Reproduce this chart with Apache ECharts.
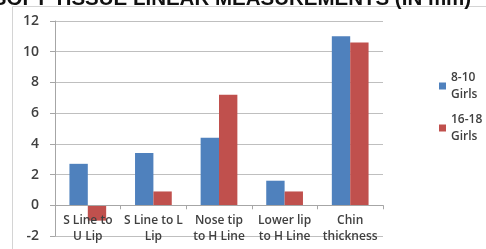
<!DOCTYPE html>
<html>
<head>
<meta charset="utf-8">
<script src="https://cdn.jsdelivr.net/npm/echarts@6/dist/echarts.min.js"></script>
<style>
  html, body { margin: 0; padding: 0; background: #fff; }
  #chart { width: 486px; height: 249px; }
</style>
</head>
<body>
<div id="chart"></div>
<script>
// 数据
const categories = ['S Line to\nU Lip', 'S Line to L\nLip', 'Nose tip\nto H Line', 'Lower lip\nto H Line', 'Chin\nthickness']
const girls810 = [2.7, 3.4, 4.4, 1.6, 11.0]
const girls1618 = [-1.0, 0.9, 7.2, 0.9, 10.6]
const seriesNames = ['8-10 Girls', '16-18 Girls']

const chart = echarts.init(document.getElementById('chart'))

const labelFont = "'Open Sans', 'Liberation Sans', sans-serif"

const option = {
  animation: false,
  title: {
    text: 'SOFT TISSUE LINEAR MEASUREMENTS (IN mm)',
    left: 227,
    textAlign: 'center',
    top: -16,
    textStyle: {
      fontFamily: "'Liberation Sans', sans-serif",
      fontWeight: 'bold',
      fontSize: 20.5,
      color: '#111'
    }
  },
  graphic: [{
    type: 'rect',
    shape: { x: 12.5, y: 6.5, width: 490, height: 260 },
    style: { fill: 'none', stroke: '#d4d4d4', lineWidth: 1 },
    z: -1
  }],
  legend: {
    orient: 'vertical',
    left: 434,
    top: 64,
    itemWidth: 7,
    itemHeight: 7,
    itemGap: 8,
    icon: 'rect',
    data: seriesNames,
    formatter: (name) => name.replace(' ', '\n'),
    textStyle: {
      fontFamily: labelFont,
      fontSize: 12,
      fontWeight: 600,
      color: '#404040',
      lineHeight: 17
    }
  },
  grid: {
    left: 55,
    right: 103,
    top: 21,
    bottom: 13,
    outerBoundsMode: 'none'
  },
  xAxis: {
    type: 'category',
    data: categories,
    z: 5,
    axisLine: { onZero: true, lineStyle: { color: '#a6a6a6' } },
    axisTick: { show: true, length: 4, lineStyle: { color: '#a6a6a6' } },
    axisLabel: {
      // 标签贴在零线下方
      margin: -23,
      interval: 0,
      fontFamily: labelFont,
      fontSize: 12,
      fontWeight: 600,
      color: '#404040',
      lineHeight: 16
    }
  },
  yAxis: {
    type: 'value',
    min: -2,
    max: 12,
    interval: 2,
    axisLine: { show: true, lineStyle: { color: '#a6a6a6' } },
    axisTick: { show: true, length: 5, lineStyle: { color: '#a6a6a6' } },
    splitLine: { lineStyle: { color: '#bfbfbf' } },
    axisLabel: {
      margin: 16,
      fontFamily: labelFont,
      fontSize: 14,
      fontWeight: 600,
      color: '#404040'
    }
  },
  series: [
    {
      name: seriesNames[0],
      type: 'bar',
      data: girls810,
      barGap: '0%',
      barCategoryGap: '44%',
      itemStyle: { color: '#4f81bd' }
    },
    {
      name: seriesNames[1],
      type: 'bar',
      data: girls1618,
      itemStyle: { color: '#c0504d' }
    }
  ]
}

chart.setOption(option)
</script>
</body>
</html>
